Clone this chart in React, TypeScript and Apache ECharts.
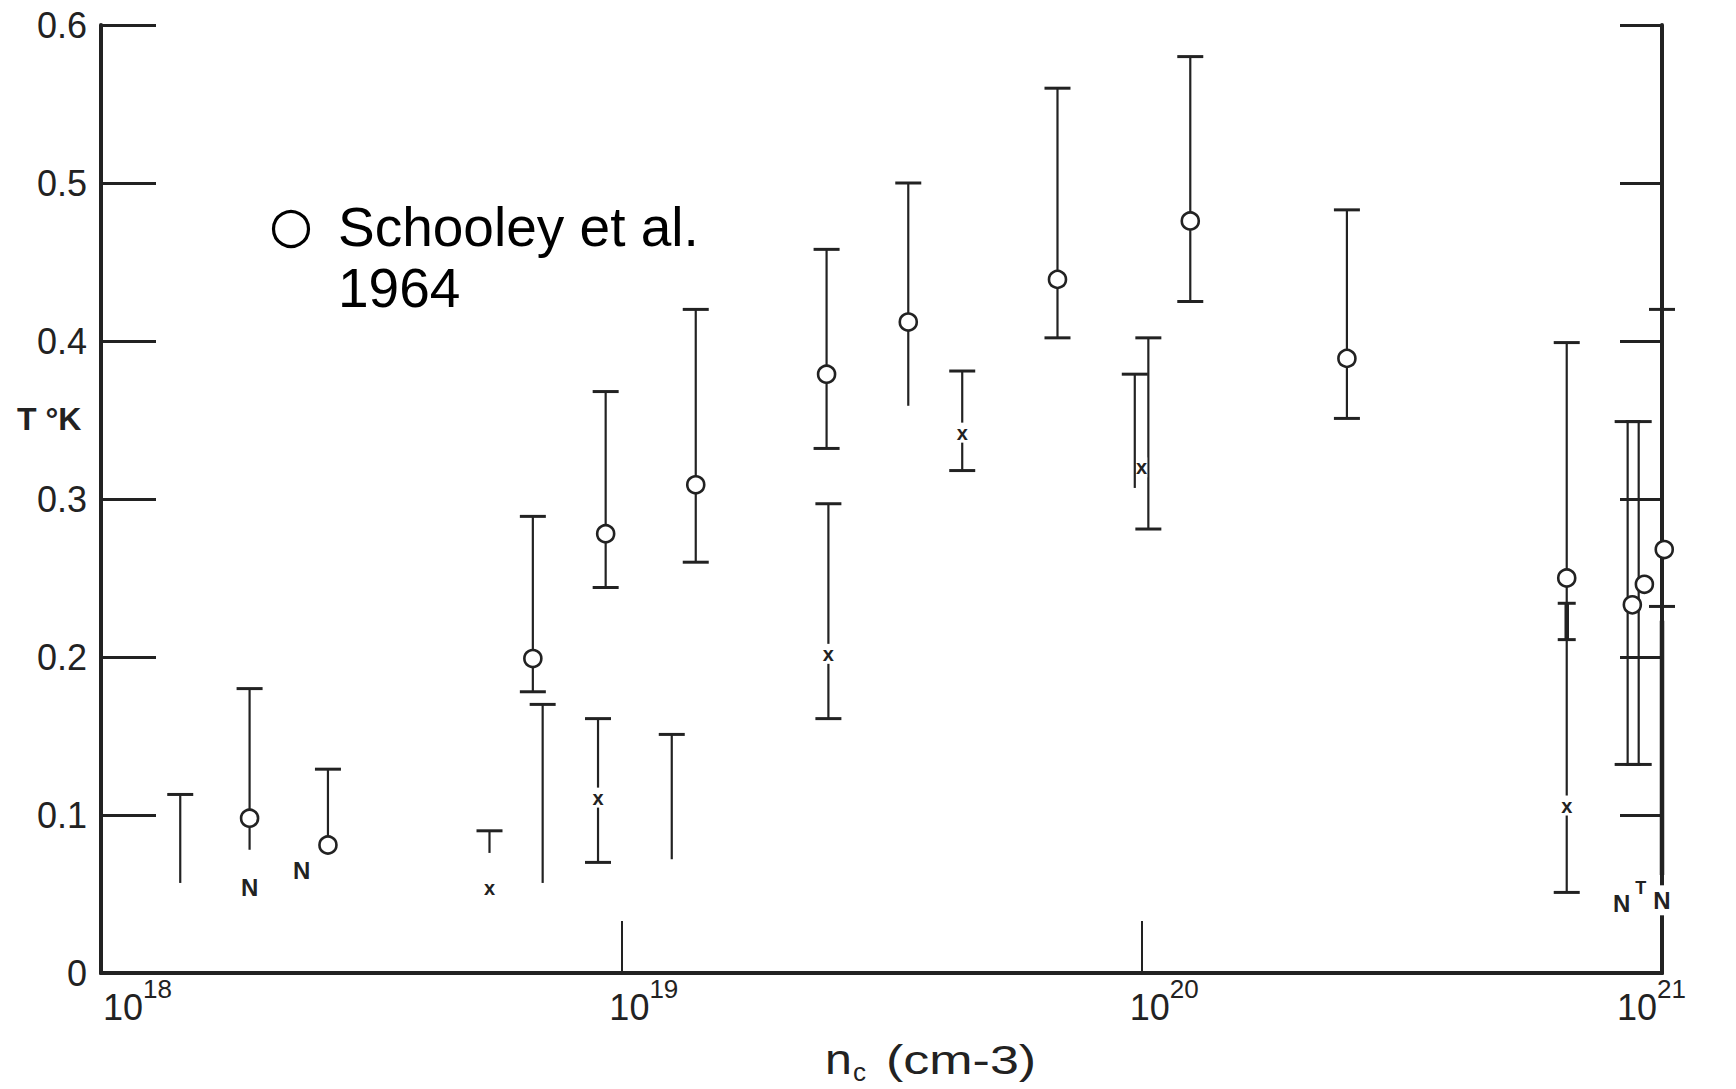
import React, { useEffect, useRef } from "react";
import * as echarts from "echarts";

// ---- data ----
const xDecades = [18, 19, 20, 21];
const yTicks = [0, 0.1, 0.2, 0.3, 0.4, 0.5, 0.6];

// error bars: carrier concentration n_c (cm^-3), lower T, upper T
const barN = [1.42e18, 1.93e18, 2.73e18, 5.58e18, 6.76e18, 7.06e18, 9.02e18, 9.33e18, 1.25e19, 1.39e19, 2.48e19, 2.5e19, 3.56e19, 4.52e19, 6.89e19, 9.7e19, 1.03e20, 1.24e20, 2.48e20, 6.56e20, 6.56e20, 8.59e20, 9.02e20, 1.0e21, 1.0e21];
const barLow = [0.057, 0.078, 0.081, 0.076, 0.178, 0.057, 0.07, 0.244, 0.072, 0.26, 0.332, 0.161, 0.359, 0.318, 0.402, 0.307, 0.281, 0.425, 0.351, 0.051, 0.211, 0.132, 0.132, 0.232, 0.062];
const barHigh = [0.113, 0.18, 0.129, 0.09, 0.289, 0.17, 0.161, 0.368, 0.151, 0.42, 0.458, 0.297, 0.5, 0.381, 0.56, 0.379, 0.402, 0.58, 0.483, 0.399, 0.234, 0.349, 0.349, 0.42, 0.223];
const lowerCapped = [0, 0, 0, 0, 1, 0, 1, 1, 0, 1, 1, 1, 0, 1, 1, 0, 1, 1, 1, 1, 1, 1, 1, 1, 0];
const upperCapped = [1, 1, 1, 1, 1, 1, 1, 1, 1, 1, 1, 1, 1, 1, 1, 1, 1, 1, 1, 1, 1, 1, 1, 1, 0];

// Schooley et al. 1964 (open circles)
const circleN = [1.93e18, 2.73e18, 6.76e18, 9.33e18, 1.39e19, 2.48e19, 3.56e19, 6.89e19, 1.24e20, 2.48e20, 6.56e20, 8.77e20, 9.25e20, 1.01e21];
const circleT = [0.098, 0.081, 0.199, 0.278, 0.309, 0.379, 0.412, 0.439, 0.476, 0.389, 0.25, 0.233, 0.246, 0.268];

// other measurements (small x marks)
const crossN = [5.58e18, 9.02e18, 2.5e19, 4.52e19, 1.0e20, 6.56e20];
const crossT = [0.054, 0.111, 0.202, 0.342, 0.32, 0.106];

// letter annotations
const noteN = [1.93e18, 2.43e18, 8.37e20, 9.1e20, 1.0e21];
const noteT = [0.054, 0.065, 0.044, 0.054, 0.046];
const noteText = ["N", "N", "N", "T", "N"];

const boldBars = new Set([20, 24]);
const INK = "#222";

export default function App() {
  const ref = useRef<HTMLDivElement>(null);
  useEffect(() => {
    if (!ref.current) return;
    const chart = echarts.init(ref.current, undefined, { renderer: "svg" });
    const tickFont = { fontFamily: "Liberation Sans", color: INK };
    const xLabel = (v: number) => {
      const e = Math.round(Math.log10(v));
      if (e === xDecades[0]) return `{lead|}{b|10}{s|${e}}`;
      if (e === xDecades[xDecades.length - 1]) return `{b|10}{s|${e}}{tail|}`;
      return `{sp|}{b|10}{s|${e}}`;
    };
    const barData = barN.map((n, i) => [n, barLow[i], barHigh[i], lowerCapped[i], upperCapped[i], i]);
    chart.setOption({
      animation: false,
      backgroundColor: "#fff",
      grid: { left: 101, right: 74, top: 25, bottom: 116, show: false },
      xAxis: [
        {
          type: "log",
          logBase: 10,
          min: 1e18,
          max: 1e21,
          position: "bottom",
          axisLine: { show: true, lineStyle: { color: INK, width: 4 } },
          axisTick: { show: true, inside: true, length: 52, lineStyle: { color: INK, width: 2 } },
          minorTick: { show: false },
          splitLine: { show: false },
          axisLabel: {
            ...tickFont,
            margin: 3,
            formatter: xLabel,
            rich: {
              b: { ...tickFont, fontSize: 36, lineHeight: 49, verticalAlign: "bottom" },
              s: { ...tickFont, fontSize: 26, lineHeight: 26, verticalAlign: "top" },
              sp: { width: 45 },
              lead: { width: 73 },
              tail: { width: 21 },
            },
          },
        },
        {
          type: "log",
          logBase: 10,
          min: 1e18,
          max: 1e21,
          position: "top",
          axisLine: { show: true, lineStyle: { color: INK, width: 4 } },
          axisTick: { show: false },
          axisLabel: { show: false },
          splitLine: { show: false },
        },
      ],
      yAxis: [
        {
          type: "value",
          min: 0,
          max: 0.6,
          interval: 0.1,
          position: "left",
          axisLine: { show: true, lineStyle: { color: INK, width: 4 } },
          axisTick: { show: true, inside: true, length: 55, lineStyle: { color: INK, width: 3 } },
          splitLine: { show: false },
          axisLabel: {
            ...tickFont,
            fontSize: 36,
            margin: 14,
            formatter: (v: number) => {
              const t = yTicks.find((k) => Math.abs(k - v) < 1e-9);
              return t === 0 ? "0" : (t ?? v).toFixed(1);
            },
          },
        },
        {
          type: "value",
          min: 0,
          max: 0.6,
          interval: 0.1,
          position: "right",
          axisLine: { show: true, lineStyle: { color: INK, width: 4 } },
          axisTick: { show: true, inside: true, length: 42, lineStyle: { color: INK, width: 3 } },
          splitLine: { show: false },
          axisLabel: { show: false },
        },
      ],
      series: [
        {
          type: "custom",
          name: "bars",
          clip: false,
          data: barData,
          renderItem: (params: any, api: any) => {
            const n = api.value(0);
            const lo = api.value(1);
            const hi = api.value(2);
            const capLo = api.value(3);
            const capHi = api.value(4);
            const idx = api.value(5);
            const bold = boldBars.has(idx);
            const pLo = api.coord([n, lo]);
            const pHi = api.coord([n, hi]);
            const cw = bold ? 9 : 13;
            const children: any[] = [
              {
                type: "line",
                shape: { x1: pLo[0], y1: pLo[1], x2: pHi[0], y2: pHi[1] },
                style: { stroke: INK, lineWidth: bold ? 4.5 : 2.2 },
              },
            ];
            if (capHi)
              children.push({
                type: "line",
                shape: { x1: pHi[0] - cw, y1: pHi[1], x2: pHi[0] + cw, y2: pHi[1] },
                style: { stroke: INK, lineWidth: 3 },
              });
            if (capLo)
              children.push({
                type: "line",
                shape: { x1: pLo[0] - cw, y1: pLo[1], x2: pLo[0] + cw, y2: pLo[1] },
                style: { stroke: INK, lineWidth: 3 },
              });
            return { type: "group", children };
          },
          z: 3,
        },
        {
          type: "scatter",
          name: "Schooley et al. 1964",
          clip: false,
          symbol: "circle",
          symbolSize: 17,
          itemStyle: { color: "#fff", borderColor: INK, borderWidth: 2.6, opacity: 1 },
          data: circleN.map((n, i) => [n, circleT[i]]),
          z: 5,
        },
        {
          type: "custom",
          name: "x marks",
          clip: false,
          data: crossN.map((n, i) => [n, crossT[i]]),
          renderItem: (params: any, api: any) => {
            const p = api.coord([api.value(0), api.value(1)]);
            return {
              type: "text",
              x: p[0],
              y: p[1],
              style: {
                text: "x",
                fill: INK,
                font: "bold 20px 'Liberation Sans'",
                align: "center",
                verticalAlign: "middle",
                backgroundColor: "#fff",
              },
            };
          },
          z: 6,
        },
        {
          type: "custom",
          name: "notes",
          clip: false,
          data: noteN.map((n, i) => [n, noteT[i], i]),
          renderItem: (params: any, api: any) => {
            const p = api.coord([api.value(0), api.value(1)]);
            const label = noteText[params.dataIndex];
            const small = label === "T";
            return {
              type: "text",
              x: p[0],
              y: p[1],
              style: {
                text: label,
                fill: INK,
                font: `bold ${small ? 18 : 24}px 'Liberation Sans'`,
                align: "center",
                verticalAlign: "middle",
                backgroundColor: small ? "transparent" : "#fff",
                padding: [3, 1, 3, 1],
              },
            };
          },
          z: 6,
        },
      ],
      graphic: [
        {
          type: "circle",
          shape: { cx: 291, cy: 229, r: 17.5 },
          style: { fill: "#fff", stroke: "#000", lineWidth: 3.2 },
        },
        {
          type: "text",
          x: 338,
          y: 196,
          style: {
            text: "Schooley et al.\n1964",
            fill: "#000",
            font: "55px 'Liberation Sans'",
            lineHeight: 61,
            align: "left",
            verticalAlign: "top",
          },
        },
        {
          type: "text",
          x: 17,
          y: 419,
          style: {
            text: "T °K",
            fill: INK,
            font: "bold 32px 'Liberation Sans'",
            align: "left",
            verticalAlign: "middle",
          },
        },
        {
          type: "text",
          x: 825,
          y: 1060,
          scaleX: 1.15,
          style: {
            text: "n",
            fill: INK,
            font: "42px 'Liberation Sans'",
            align: "left",
            verticalAlign: "middle",
          },
        },
        {
          type: "text",
          x: 853,
          y: 1072,
          style: {
            text: "c",
            fill: INK,
            font: "26px 'Liberation Sans'",
            align: "left",
            verticalAlign: "middle",
          },
        },
        {
          type: "text",
          x: 886,
          y: 1060,
          scaleX: 1.3,
          style: {
            text: "(cm-3)",
            fill: INK,
            font: "40px 'Liberation Sans'",
            align: "left",
            verticalAlign: "middle",
          },
        },
      ],
    });
    return () => chart.dispose();
  }, []);
  return (
    <div
      ref={ref}
      style={{ position: "fixed", left: 0, top: 0, width: 1736, height: 1089, background: "#fff" }}
    />
  );
}
